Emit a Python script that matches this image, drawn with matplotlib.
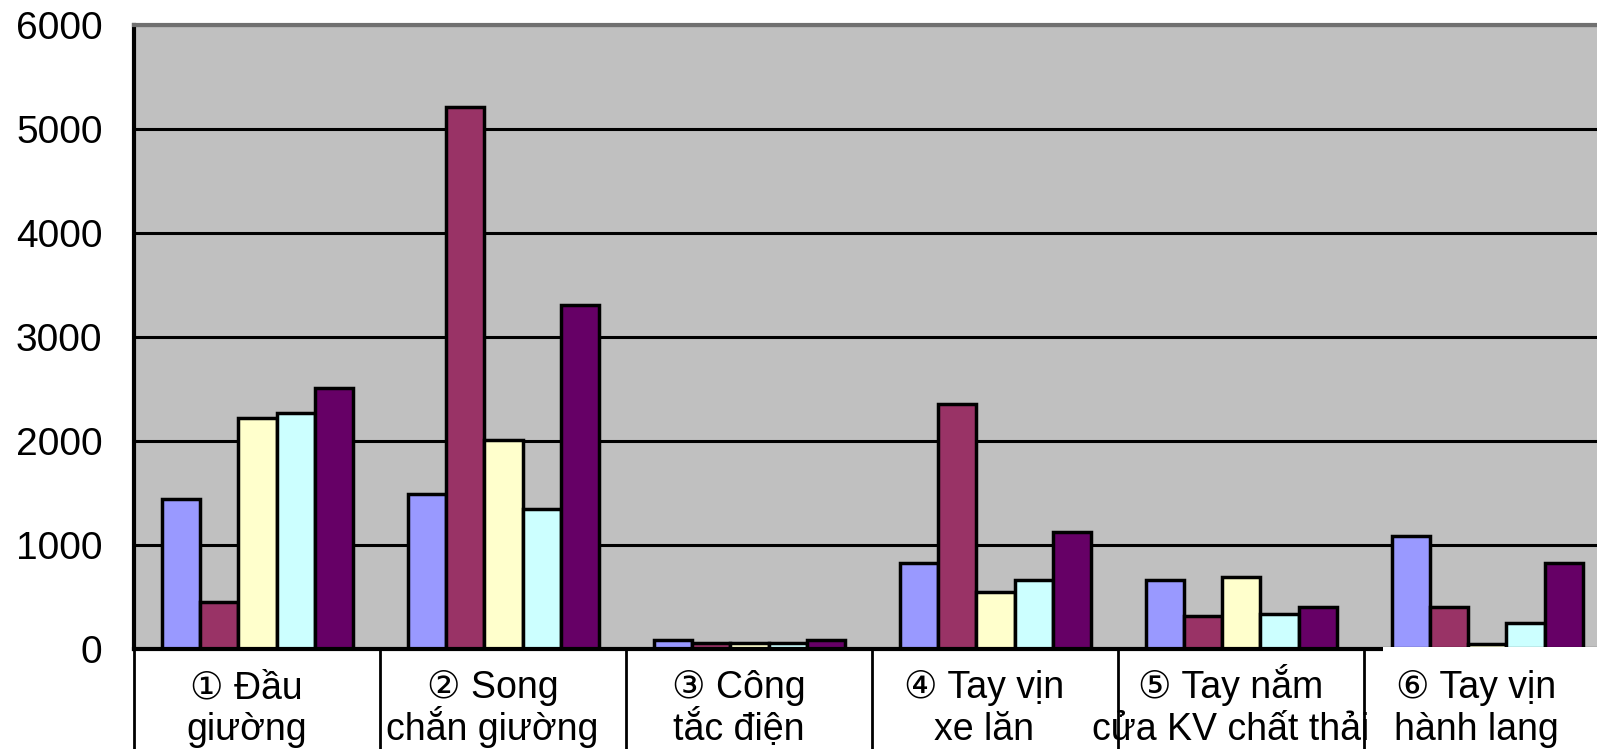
# plot.py
#
# Grouped bar chart: bacterial counts on six hospital surfaces,
# five sampling rounds each. Label row below the axis looks like a table.

import matplotlib

matplotlib.use("Agg")
import matplotlib.pyplot as plt  # noqa: E402
import matplotlib.transforms as mtransforms  # noqa: E402
from matplotlib.patches import Rectangle  # noqa: E402
import numpy as np  # noqa: E402

plt.rcParams["font.family"] = ["Liberation Sans", "DejaVu Sans"]

# --- data ---
label_top = ["① Đầu", "② Song", "③ Công", "④ Tay vịn", "⑤ Tay nắm", "⑥ Tay vịn"]
label_bottom = ["giường", "chắn giường", "tắc điện", "xe lăn",
                "cửa KV chất thải", "hành lang"]
series_names = ["Lần 1", "Lần 2", "Lần 3", "Lần 4", "Lần 5"]
round1 = [1440, 1490, 90, 830, 660, 1090]
round2 = [450, 5220, 60, 2360, 320, 400]
round3 = [2220, 2010, 60, 550, 690, 50]
round4 = [2270, 1350, 60, 660, 340, 255]
round5 = [2510, 3310, 90, 1130, 400, 830]
series_values = [round1, round2, round3, round4, round5]
colors = ["#9999FF", "#993366", "#FFFFCC", "#CCFFFF", "#660066"]
yticks = [0, 1000, 2000, 3000, 4000, 5000, 6000]


def main() -> None:
    W, H = 1597, 749
    fig = plt.figure(figsize=(W / 100, H / 100), dpi=100, facecolor="white")
    # axes runs slightly past the right edge, like the cropped original
    ax = fig.add_axes([0.0842, 0.1335, 0.9242, 0.8325])
    ax.set_facecolor("#C0C0C0")

    x = np.arange(len(label_top))
    width = 0.155
    for i, (name, vals) in enumerate(zip(series_names, series_values)):
        offset = (i - 2) * width
        ax.bar(x + offset, vals, width=width, color=colors[i],
               edgecolor="black", linewidth=2.5, label=name, zorder=3)

    ax.set_xlim(-0.5, len(label_top) - 0.5)
    ax.set_ylim(0, 6000)
    ax.set_yticks(yticks)
    ax.set_yticklabels([str(t) for t in yticks], fontsize=28)
    ax.tick_params(axis="y", direction="in", length=10, width=2, pad=23)
    ax.set_xticks([])
    ax.yaxis.grid(True, color="black", linewidth=2.2, zorder=1)
    ax.set_axisbelow(True)

    ax.spines["left"].set_linewidth(3)
    ax.spines["bottom"].set_linewidth(3)
    ax.spines["bottom"].set_zorder(4)
    ax.spines["top"].set_color("#707070")
    ax.spines["top"].set_linewidth(3)
    ax.spines["right"].set_visible(False)

    # table-like label row under the axis
    trans = mtransforms.blended_transform_factory(ax.transData, fig.transFigure)
    for b in np.arange(-0.5, len(label_top), 1.0):
        ax.plot([b, b], [0.1335, 0.0], transform=trans, color="black",
                linewidth=2, clip_on=False, zorder=5)
    for xi, top, bottom in zip(x, label_top, label_bottom):
        ax.text(xi - 0.045, 1 - 698 / H, top, transform=trans, ha="center",
                va="baseline", fontsize=27, clip_on=False)
        ax.text(xi - 0.045, 1 - 740 / H, bottom, transform=trans, ha="center",
                va="baseline", fontsize=27, clip_on=False)

    # white patch over the axis line under the last cell
    fig.patches.append(Rectangle((1383 / W, 1 - 652 / H), (W - 1383) / W, 5 / H,
                                 transform=fig.transFigure, facecolor="white",
                                 edgecolor="none", zorder=10))

    fig.savefig("out.png", dpi=100, facecolor="white")
    plt.close(fig)


if __name__ == "__main__":
    main()
